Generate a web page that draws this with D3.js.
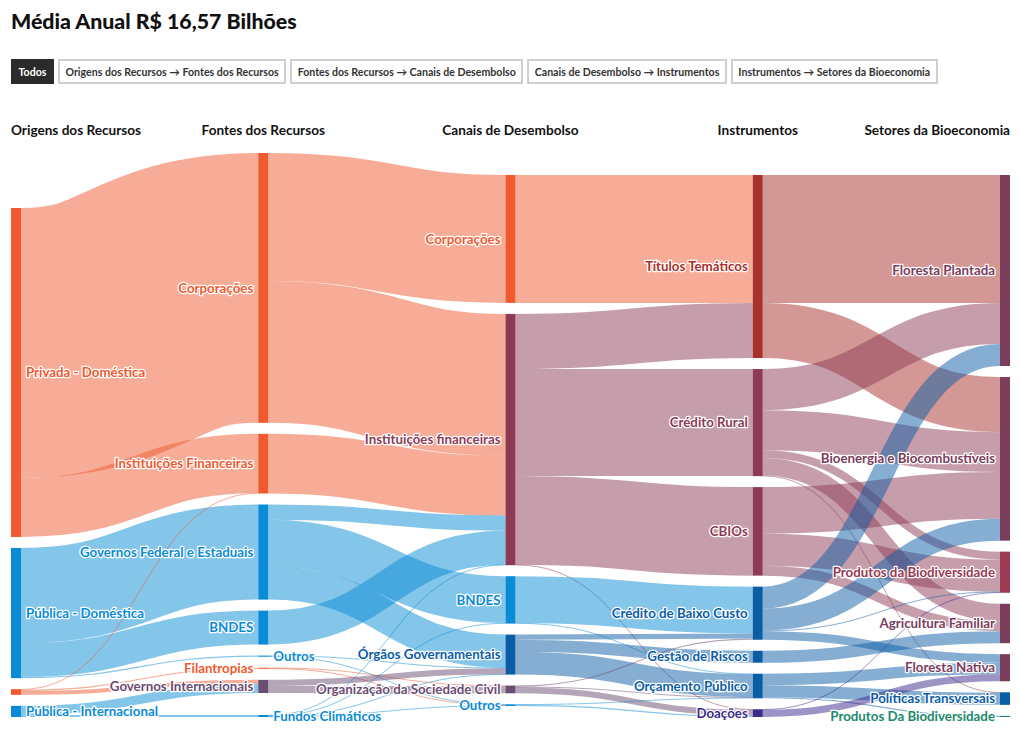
<!DOCTYPE html>
<html><head><meta charset="utf-8">
<script src="https://cdn.jsdelivr.net/npm/d3@7"></script>
<style>
body{margin:0;background:#fff;font-family:Lato,"Noto Sans",sans-serif;width:1020px;height:737px;overflow:hidden;position:relative}
#title{position:absolute;left:11px;top:8px;font-size:21.3px;font-weight:900;color:#111;margin:0}
#btns{position:absolute;left:11px;top:59px;display:flex;gap:4px}
.btn{height:25px;box-sizing:border-box;border:2px solid #cfcfcf;background:#fff;color:#333;font-family:Lato,sans-serif;font-weight:700;font-size:10.6px;padding:0 5.5px;display:flex;align-items:center;white-space:nowrap}
.btn.active{background:#2b2b2b;border-color:#2b2b2b;color:#fff}
svg{position:absolute;left:0;top:0}
</style></head>
<body>
<div id="title">Média Anual R$ 16,57 Bilhões</div>
<div id="btns"></div>
<svg id="chart" width="1020" height="737"></svg>
<script>
// ---------------- DATA (R$ bilhões, média anual) ----------------
const buttonLabels = ["Todos","Origens dos Recursos → Fontes dos Recursos","Fontes dos Recursos → Canais de Desembolso","Canais de Desembolso → Instrumentos","Instrumentos → Setores da Bioeconomia"];
const columnTitles = ["Origens dos Recursos","Fontes dos Recursos","Canais de Desembolso","Instrumentos","Setores da Bioeconomia"];

const origens = ["Privada - Doméstica","Pública - Doméstica","Privada - Internacional","Pública - Internacional"];
const fontes = ["Corporações","Instituições Financeiras","Governos Federal e Estaduais","BNDES","Outros","Filantropias","Governos Internacionais","Fundos Climáticos"];
const canais = ["Corporações","Instituições financeiras","BNDES","Órgãos Governamentais","Organização da Sociedade Civil","Outros"];
const instrumentos = ["Títulos Temáticos","Crédito Rural","CBIOs","Crédito de Baixo Custo","Gestão de Riscos","Orçamento Público","Doações"];
const setores = ["Floresta Plantada","Bioenergia e Biocombustíveis","Produtos da Biodiversidade","Agricultura Familiar","Floresta Nativa","Políticas Transversais","Produtos Da Biodiversidade"];

const linksOrigensFontes = [
  ["Privada - Doméstica","Corporações",9.45],
  ["Privada - Doméstica","Instituições Financeiras",2.07],
  ["Pública - Doméstica","Governos Federal e Estaduais",3.33],
  ["Pública - Doméstica","BNDES",1.19],
  ["Pública - Doméstica","Outros",0.04],
  ["Privada - Internacional","Instituições Financeiras",0.02],
  ["Privada - Internacional","Filantropias",0.04],
  ["Privada - Internacional","Governos Internacionais",0.14],
  ["Pública - Internacional","Governos Internacionais",0.32],
  ["Pública - Internacional","Fundos Climáticos",0.07]
];
const linksFontesCanais = [
  ["Corporações","Corporações",4.48],
  ["Corporações","Instituições financeiras",4.97],
  ["Instituições Financeiras","Instituições financeiras",2.09],
  ["Governos Federal e Estaduais","Instituições financeiras",0.53],
  ["Governos Federal e Estaduais","BNDES",1.64],
  ["Governos Federal e Estaduais","Órgãos Governamentais",1.16],
  ["BNDES","Instituições financeiras",1.19],
  ["Outros","Órgãos Governamentais",0.02],
  ["Outros","Outros",0.02],
  ["Filantropias","Organização da Sociedade Civil",0.02],
  ["Filantropias","Outros",0.02],
  ["Governos Internacionais","Órgãos Governamentais",0.21],
  ["Governos Internacionais","Organização da Sociedade Civil",0.25],
  ["Fundos Climáticos","Instituições financeiras",0.02],
  ["Fundos Climáticos","BNDES",0.02],
  ["Fundos Climáticos","Órgãos Governamentais",0.01],
  ["Fundos Climáticos","Outros",0.02]
];
const linksCanaisInstrumentos = [
  ["Corporações","Títulos Temáticos",4.48],
  ["Instituições financeiras","Títulos Temáticos",1.93],
  ["Instituições financeiras","Crédito Rural",3.75],
  ["Instituições financeiras","CBIOs",3.10],
  ["Instituições financeiras","Doações",0.02],
  ["BNDES","Crédito de Baixo Custo",1.64],
  ["BNDES","Orçamento Público",0.02],
  ["Órgãos Governamentais","Crédito de Baixo Custo",0.18],
  ["Órgãos Governamentais","Gestão de Riscos",0.42],
  ["Órgãos Governamentais","Orçamento Público",0.80],
  ["Organização da Sociedade Civil","Crédito de Baixo Custo",0.04],
  ["Organização da Sociedade Civil","Orçamento Público",0.02],
  ["Organização da Sociedade Civil","Doações",0.21],
  ["Outros","Orçamento Público",0.02],
  ["Outros","Doações",0.04]
];
const linksInstrumentosSetores = [
  ["Títulos Temáticos","Floresta Plantada",4.48],
  ["Títulos Temáticos","Bioenergia e Biocombustíveis",1.93],
  ["Crédito Rural","Floresta Plantada",1.44],
  ["Crédito Rural","Bioenergia e Biocombustíveis",1.40],
  ["Crédito Rural","Produtos da Biodiversidade",0.28],
  ["Crédito Rural","Agricultura Familiar",0.61],
  ["Crédito Rural","Políticas Transversais",0.02],
  ["CBIOs","Bioenergia e Biocombustíveis",1.63],
  ["CBIOs","Produtos da Biodiversidade",1.12],
  ["CBIOs","Agricultura Familiar",0.35],
  ["Crédito de Baixo Custo","Floresta Plantada",0.77],
  ["Crédito de Baixo Custo","Bioenergia e Biocombustíveis",0.77],
  ["Crédito de Baixo Custo","Produtos da Biodiversidade",0.02],
  ["Crédito de Baixo Custo","Floresta Nativa",0.30],
  ["Gestão de Riscos","Agricultura Familiar",0.42],
  ["Orçamento Público","Floresta Nativa",0.40],
  ["Orçamento Público","Políticas Transversais",0.42],
  ["Orçamento Público","Produtos Da Biodiversidade",0.04],
  ["Doações","Floresta Nativa",0.25],
  ["Doações","Produtos da Biodiversidade",0.02]
];

// ---------------- STYLE ----------------
const C = {orange:"#ef5a2f", blue:"#0a8bd6", purple:"#6b4c72", maroon:"#8d3b55", red:"#a8322b",
           navy:"#0b5da6", indigo:"#3b2a8c", plum:"#7b3d5c", rose:"#9b3a52", green:"#1a8a6a"};
const nodeColors = {
  "0|Privada - Doméstica":C.orange,"0|Pública - Doméstica":C.blue,"0|Privada - Internacional":C.orange,"0|Pública - Internacional":C.blue,
  "1|Corporações":C.orange,"1|Instituições Financeiras":C.orange,"1|Governos Federal e Estaduais":C.blue,"1|BNDES":C.blue,
  "1|Outros":C.blue,"1|Filantropias":C.orange,"1|Governos Internacionais":C.purple,"1|Fundos Climáticos":C.blue,
  "2|Corporações":C.orange,"2|Instituições financeiras":C.maroon,"2|BNDES":C.blue,"2|Órgãos Governamentais":C.navy,
  "2|Organização da Sociedade Civil":C.purple,"2|Outros":C.blue,
  "3|Títulos Temáticos":C.red,"3|Crédito Rural":C.maroon,"3|CBIOs":C.maroon,"3|Crédito de Baixo Custo":C.navy,
  "3|Gestão de Riscos":C.navy,"3|Orçamento Público":C.navy,"3|Doações":C.indigo,
  "4|Floresta Plantada":C.plum,"4|Bioenergia e Biocombustíveis":C.plum,"4|Produtos da Biodiversidade":C.rose,
  "4|Agricultura Familiar":C.plum,"4|Floresta Nativa":C.plum,"4|Políticas Transversais":C.navy,"4|Produtos Da Biodiversidade":C.green
};
const rightLabels = new Set(["1|Outros","1|Fundos Climáticos"]);
const hiddenLabels = new Set(["0|Privada - Internacional"]);
const pinBottom = new Set(["1|Fundos Climáticos"]);
const columnAlign = ["bottom","top","next","bottom","bottom"];

// ---------------- BUTTONS ----------------
d3.select("#btns").selectAll("div").data(buttonLabels).join("div")
  .attr("class",(d,i)=>"btn"+(i===0?" active":"")).text(d=>d);

// ---------------- GRAPH ----------------
const stages = [origens, fontes, canais, instrumentos, setores];
const stageLinks = [linksOrigensFontes, linksFontesCanais, linksCanaisInstrumentos, linksInstrumentosSetores];
const nodes = stages.flatMap((names, layer) => names.map(name => ({id: layer + "|" + name, name, layer})));
const links = stageLinks.flatMap((arr, i) => arr.map(([s, t, v]) => ({source: i + "|" + s, target: (i + 1) + "|" + t, value: v})));

// ---------------- SANKEY LAYOUT ----------------
function sankeyLayout(nodes, links, o) {
  const {x0, y0, x1, y1, nodeWidth, py} = o;
  const byId = new Map(nodes.map(n => [n.id, n]));
  nodes.forEach((n, i) => { n.index = i; n.sourceLinks = []; n.targetLinks = []; });
  links.forEach((l, i) => {
    l.index = i; l.source = byId.get(l.source); l.target = byId.get(l.target);
    l.source.sourceLinks.push(l); l.target.targetLinks.push(l);
  });
  nodes.forEach(n => n.value = Math.max(d3.sum(n.sourceLinks, l => l.value), d3.sum(n.targetLinks, l => l.value)));
  const nCols = d3.max(nodes, n => n.layer) + 1;
  const xScale = d3.scaleLinear().domain([0, nCols - 1]).range([x0, x1 - nodeWidth]);
  nodes.forEach(n => { n.x0 = xScale(n.layer); n.x1 = n.x0 + nodeWidth; });
  const columns = d3.range(nCols).map(i => nodes.filter(n => n.layer === i));
  const maxLen = d3.max(columns, c => c.length);
  const maxSum = d3.max(columns, c => d3.sum(c, n => n.value));
  const vScale = d3.scaleLinear().domain([0, maxSum]).range([0, (y1 - y0) - maxLen * py]);
  nodes.forEach(n => n.h = vScale(n.value));
  links.forEach(l => l.width = vScale(l.value));
  const stackH = c => d3.sum(c, n => n.h) + (c.length - 1) * py;
  const tops = [];
  columns.forEach((c, i) => {
    if (columnAlign[i] === "top") tops[i] = y0;
    else if (columnAlign[i] === "bottom") tops[i] = y1 - stackH(c);
  });
  for (let i = columns.length - 1; i >= 0; --i) if (columnAlign[i] === "next") tops[i] = tops[i + 1];
  columns.forEach((c, i) => {
    let y = tops[i];
    for (const n of c) { n.y0 = y; n.y1 = y + n.h; y = n.y1 + py; }
  });
  for (const n of nodes) if (pinBottom.has(n.id)) { n.y1 = y1; n.y0 = y1 - n.h; }
  for (const n of nodes) {
    n.sourceLinks.sort((a, b) => a.target.y0 - b.target.y0 || a.index - b.index);
    n.targetLinks.sort((a, b) => a.source.y0 - b.source.y0 || a.index - b.index);
  }
  for (const n of nodes) {
    let a = n.y0, b = n.y0;
    for (const l of n.sourceLinks) { l.y0 = a + l.width / 2; a += l.width; }
    for (const l of n.targetLinks) { l.y1 = b + l.width / 2; b += l.width; }
  }
  return {xScale};
}

const {xScale} = sankeyLayout(nodes, links, {x0: 11, y0: 153, x1: 1010, y1: 717, nodeWidth: 10, py: 11});

// ---------------- RENDER ----------------
const svg = d3.select("#chart");
const color = id => nodeColors[id] || "#888";

svg.append("g").selectAll("text").data(columnTitles).join("text")
  .attr("x", (d, i) => i === 0 ? 11 : i === columnTitles.length - 1 ? 1010 : xScale(i) + 5)
  .attr("y", 135)
  .attr("text-anchor", (d, i) => i === 0 ? "start" : i === columnTitles.length - 1 ? "end" : "middle")
  .attr("font-family", "Lato, sans-serif").attr("font-weight", 700).attr("font-size", 13.6).attr("fill", "#111")
  .text(d => d);

const linkPath = d3.linkHorizontal().source(d => [d.source.x1, d.y0]).target(d => [d.target.x0, d.y1]);
svg.append("g").attr("fill", "none").selectAll("path").data(links).join("path")
  .attr("d", linkPath)
  .attr("stroke", d => color(d.source.id))
  .attr("stroke-opacity", 0.5)
  .attr("stroke-width", d => Math.max(1, d.width));

svg.append("g").selectAll("rect").data(nodes).join("rect")
  .attr("x", d => d.x0).attr("y", d => d.y0)
  .attr("width", d => d.x1 - d.x0).attr("height", d => Math.max(0.5, d.y1 - d.y0))
  .attr("fill", d => color(d.id));

svg.append("g").selectAll("text").data(nodes.filter(n => !hiddenLabels.has(n.id))).join("text")
  .attr("x", d => (d.layer === 0 || rightLabels.has(d.id)) ? d.x1 + 5 : d.x0 - 5)
  .attr("y", d => (d.y0 + d.y1) / 2).attr("dy", "0.35em")
  .attr("text-anchor", d => (d.layer === 0 || rightLabels.has(d.id)) ? "start" : "end")
  .attr("font-family", "Lato, sans-serif").attr("font-weight", 700).attr("font-size", 13.3)
  .attr("fill", d => color(d.id))
  .attr("stroke", "#fff").attr("stroke-width", 2.5).attr("stroke-linejoin", "round").attr("paint-order", "stroke")
  .text(d => d.name);
</script>
</body></html>
